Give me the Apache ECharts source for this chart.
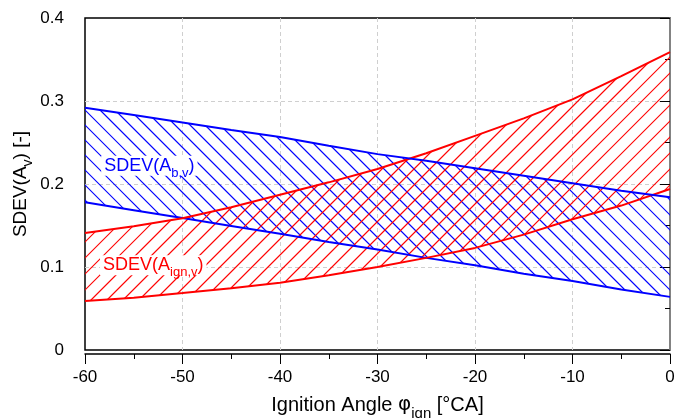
<!DOCTYPE html>
<html>
<head>
<meta charset="utf-8">
<script src="https://cdn.jsdelivr.net/npm/echarts@6/dist/echarts.min.js"></script>
<style>
  html, body { margin: 0; padding: 0; background: #fff; }
  #main { width: 674px; height: 418px; }
</style>
</head>
<body>
<div id="main"></div>
<script>
// ignition angle [°CA]
var angles = [-60, -55, -50, -45, -40, -35, -30, -25, -20, -15, -10, -5, 0];
// SDEV(A_b,v) band
var bLow  = [0.178, 0.1685, 0.159, 0.1495, 0.140, 0.130, 0.121, 0.111, 0.102, 0.092, 0.083, 0.073, 0.064];
var bHigh = [0.292, 0.283, 0.274, 0.265, 0.2566, 0.246, 0.236, 0.228, 0.219, 0.210, 0.201, 0.192, 0.184];
// SDEV(A_ign,v) band
var iLow  = [0.059, 0.063, 0.0687, 0.0745, 0.081, 0.090, 0.100, 0.111, 0.123, 0.139, 0.1575, 0.174, 0.194];
var iHigh = [0.141, 0.149, 0.1587, 0.172, 0.187, 0.202, 0.218, 0.237, 0.258, 0.279, 0.302, 0.330, 0.359];

var xTicks = [-60, -50, -40, -30, -20, -10, 0];
var yTicks = [0, 0.1, 0.2, 0.3, 0.4];

(function() {
    var myChart = echarts.init(document.getElementById('main'), null, { renderer: 'canvas' });

    var BLUE = '#0000ff';
    var RED = '#ff0000';
    var FONT = 'Liberation Sans, Arial, sans-serif';

    function pairs(ys) {
        return angles.map(function(x, i) { return [x, ys[i]]; });
    }

    // 带状区域：斜线填充，用多边形裁剪
    function band(name, low, high, color, step, back) {
        return {
            name: name,
            type: 'custom',
            z: 1,
            silent: true,
            data: [[angles[0], low[0]]],
            renderItem: function(params, api) {
                var cs = params.coordSys;
                var pts = [];
                for (var i = 0; i < angles.length; i++) pts.push(api.coord([angles[i], high[i]]));
                for (var j = angles.length - 1; j >= 0; j--) pts.push(api.coord([angles[j], low[j]]));
                var h = cs.height;
                var kids = [];
                for (var t = -h; t < cs.width + h; t += step) {
                    var shape = back
                        ? { x1: cs.x + t, y1: cs.y, x2: cs.x + t + h, y2: cs.y + h }
                        : { x1: cs.x + t, y1: cs.y + h, x2: cs.x + t + h, y2: cs.y };
                    kids.push({ type: 'line', shape: shape, style: { stroke: color, lineWidth: 1.2 } });
                }
                return {
                    type: 'group',
                    clipPath: { type: 'polygon', shape: { points: pts } },
                    children: kids
                };
            }
        };
    }

    function line(name, ys, color) {
        return {
            name: name,
            type: 'line',
            z: 3,
            symbol: 'none',
            lineStyle: { color: color, width: 2 },
            data: pairs(ys)
        };
    }

    function bandLabel(x, y, text, sub, color) {
        return {
            symbol: 'circle',
            symbolSize: 0,
            data: [{ coord: [x, y] }],
            label: {
                show: true,
                position: 'inside',
                backgroundColor: '#fff',
                padding: [1, 3, 1, 3],
                formatter: '{a|' + text + '}{s|' + sub + '}{a|)}',
                rich: {
                    a: { fontSize: 18, color: color, fontFamily: FONT, verticalAlign: 'bottom' },
                    s: { fontSize: 13, color: color, fontFamily: FONT, verticalAlign: 'bottom', padding: [0, 0, -5, 0] }
                }
            }
        };
    }

    var dash = { type: [4, 3], color: '#cfcfcf', width: 1 };

    var option = {
        animation: false,
        grid: {
            left: 85, right: 4, top: 18, bottom: 68,
            outerBoundsMode: 'none',
            containLabel: false,
            show: true, borderColor: '#000', borderWidth: 1.5, backgroundColor: '#fff'
        },
        xAxis: [{
            type: 'value',
            min: xTicks[0], max: xTicks[xTicks.length - 1], interval: 10,
            position: 'bottom',
            offset: 4,
            axisLine: { show: true, onZero: false, lineStyle: { color: '#000', width: 1.5 } },
            axisTick: { show: true, length: 10, lineStyle: { color: '#000', width: 1 } },
            minorTick: { show: true, splitNumber: 2, length: 5, lineStyle: { color: '#000', width: 1 } },
            axisLabel: { fontSize: 17, color: '#000', fontFamily: FONT, margin: 15 },
            splitLine: { show: true, showMinLine: false, showMaxLine: false, lineStyle: dash },
            name: '{a|Ignition Angle }{p|φ}{s|ign}{a| [°CA]}',
            nameLocation: 'middle',
            nameGap: 41,
            nameMoveOverlap: false,
            nameTextStyle: {
                rich: {
                    a: { fontSize: 20, color: '#000', fontFamily: FONT, verticalAlign: 'bottom' },
                    p: { fontSize: 20, color: '#000', fontFamily: 'DejaVu Sans', verticalAlign: 'bottom' },
                    s: { fontSize: 15, color: '#000', fontFamily: FONT, verticalAlign: 'bottom', padding: [0, 0, -6, 0] }
                }
            }
        }],
        yAxis: [{
            type: 'value',
            min: yTicks[0], max: yTicks[yTicks.length - 1], interval: 0.1,
            position: 'left',
            offset: 5,
            axisLine: { show: true, lineStyle: { color: '#9a9a9a', width: 1.5 } },
            axisTick: { show: true, length: 10, lineStyle: { color: '#000', width: 1 } },
            minorTick: { show: true, splitNumber: 2, length: 5, lineStyle: { color: '#000', width: 1 } },
            axisLabel: {
                fontSize: 17, color: '#000', fontFamily: FONT, margin: 16,
                formatter: function(v) { return v === 0 ? '0' : v.toFixed(1); }
            },
            splitLine: { show: true, showMinLine: false, showMaxLine: false, lineStyle: dash },
            name: '{a|SDEV(A}{s|v}{a|) [-]}',
            nameLocation: 'middle',
            nameGap: 50,
            nameMoveOverlap: false,
            nameTextStyle: {
                rich: {
                    a: { fontSize: 19, color: '#000', fontFamily: FONT, verticalAlign: 'bottom' },
                    s: { fontSize: 14, color: '#000', fontFamily: FONT, verticalAlign: 'bottom', padding: [0, 0, -5, 0] }
                }
            }
        }],
        series: [
            band('bBand', bLow, bHigh, BLUE, 15, true),
            band('iBand', iLow, iHigh, RED, 16, false),
            line('bLow', bLow, BLUE),
            line('iLow', iLow, RED),
            line('iHigh', iHigh, RED),
            Object.assign(line('bHigh', bHigh, BLUE), { markPoint: bandLabel(-53.4, 0.222, 'SDEV(A', 'b,v', BLUE) }),
            Object.assign(line('iHighLabel', [], RED), { markPoint: bandLabel(-53, 0.102, 'SDEV(A', 'ign,v', RED) })
        ]
    };

    myChart.setOption(option);
})();
</script>
</body>
</html>
